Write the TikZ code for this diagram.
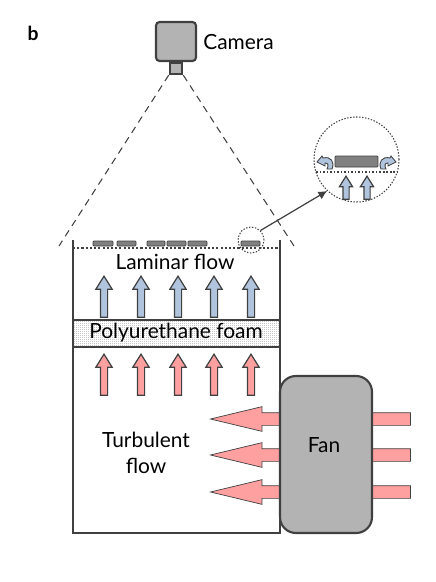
\documentclass[tikz,border=0pt]{standalone}
\usepackage{fontspec}
\setmainfont{Lato}
\usepackage{tikz}
\usetikzlibrary{shapes,arrows,arrows.meta,positioning,patterns}
\definecolor{darkline}{HTML}{404040}
\definecolor{bluearrow}{HTML}{B0C4DE}
\definecolor{redarrow}{HTML}{FFA0A0}
\definecolor{boxgray}{HTML}{B3B3B3}
\definecolor{panelgray}{HTML}{808080}
\pgfdeclarepatternformonly{foamdots}{\pgfqpoint{-0.2pt}{-0.2pt}}{\pgfqpoint{1.1pt}{1.1pt}}{\pgfqpoint{1.3pt}{1.3pt}}{
  \pgfpathrectangle{\pgfqpoint{0pt}{0pt}}{\pgfqpoint{0.5pt}{0.5pt}}
  \pgfusepath{fill}
}

\begin{document}
\begin{tikzpicture}[
  x=0.02cm, y=-0.02cm,
  label/.style={font=\fontsize{11.9}{13}\selectfont, text=black, inner sep=0pt},
  flowup/.style={shape=single arrow, anchor=tip, draw=darkline, line width=0.7pt, rotate=90, minimum height=0.82cm, single arrow head extend=0.09cm, single arrow tip angle=64, single arrow head indent=0cm, inner xsep=0pt, inner ysep=0.06cm},
  flowblue/.style={flowup, fill=bluearrow},
  flowred/.style={flowup, fill=redarrow},
  fanflow/.style={shape=single arrow, anchor=tip, draw=darkline, fill=redarrow, line width=0.4pt, rotate=180, minimum height=4cm, single arrow head extend=0.12cm, single arrow tip angle=27, single arrow head indent=0cm, inner xsep=0pt, inner ysep=0.12cm},
  panel/.style={rectangle, draw=darkline, fill=panelgray, rounded corners=0.5pt, line width=0.4pt, minimum height=0.1cm, inner sep=0pt},
  wall/.style={draw=darkline, line width=1.2pt},
  dotline/.style={draw=darkline, line width=1.2pt, dash pattern=on 1.2pt off 1.2pt},
  zoomring/.style={circle, draw=darkline, line width=0.6pt, dash pattern=on 0.8pt off 0.9pt, inner sep=0pt},
  curlflow/.style={draw=darkline, fill=bluearrow, line width=0.5pt}
]
\useasboundingbox (0,0) rectangle (436,582);

% Label
\node[label, font=\fontsize{11}{13}\selectfont\bfseries] (panelb) at (33,33) {b};

% Camera
\node[rectangle, draw=darkline, fill=boxgray, line width=1.2pt, rounded corners=2pt, minimum width=0.8cm, minimum height=0.78cm, inner sep=0pt] (camera) at (176,41.5) {};
\node[rectangle, draw=darkline, fill=boxgray, line width=1.2pt, minimum width=0.25cm, minimum height=0.22cm, inner sep=0pt, anchor=north] (lens) at (camera.south) {};
\node[label, anchor=west] (cameralabel) at (203,42) {Camera};

% View lines
\coordinate (viewleft) at (59,246);
\coordinate (viewright) at (294,246);
\draw[darkline, line width=0.6pt, dash pattern=on 4pt off 3pt] (lens.south west) -- (viewleft);
\draw[darkline, line width=0.6pt, dash pattern=on 4pt off 3pt] (lens.south east) -- (viewright);

% Foam
\node[rectangle, draw=darkline, line width=1.2pt, pattern=foamdots, pattern color=gray, minimum width=4.13cm, minimum height=0.54cm, inner sep=0pt] (foam) at (176.5,333.5) {};
\node[label] (foamlabel) at (176,333) {Polyurethane foam};

% Tunnel
\coordinate (walltl) at (73,240);
\coordinate (walltr) at (280,240);
\coordinate (wallbl) at (73,533);
\coordinate (wallbr) at (280,533);
\draw[wall] (walltl) -- (wallbl) -- (wallbr) -- (walltr);
\coordinate (surfl) at (73,248);
\coordinate (surfr) at (280,248);
\draw[dotline] (surfl) -- (surfr);

% Objects on the surface
\foreach \name/\xa/\xb in {pa/93/113, pb/117/136, pc/147/165, pd/167/186, pe/188/207, pf/241/260} {
  \pgfmathsetmacro{\xmid}{(\xa+\xb)/2}
  \pgfmathsetmacro{\xlen}{(\xb-\xa)*0.02}
  \node[panel, minimum width=\xlen cm] (\name) at (\xmid,243.5) {};
}

% Laminar and foam arrows
\foreach \x [count=\i] in {104,141,178,214,251} {
  \node[flowblue] (up\i) at (\x,275) {};
  \node[flowred] (in\i) at (\x,353) {};
}
\node[label] (laminar) at (175,262) {Laminar flow};
\node[label, align=center] (turbulent) at (146,453) {Turbulent\\[1.5pt]flow};

% Fan
\foreach \y [count=\i] in {419,455,492} {
  \node[fanflow] (fanair\i) at (209,\y) {};
}
\node[rectangle, draw=darkline, fill=boxgray, line width=1.2pt, rounded corners=9pt, minimum width=1.84cm, minimum height=3.14cm, inner sep=0pt] (fan) at (326,454.5) {};
\node[label] (fanlabel) at (324,445) {Fan};

% Zoom
\node[zoomring, minimum size=0.52cm] (spot) at (251,240) {};
\node[zoomring, minimum size=1.7cm] (detail) at (356.5,159.5) {};
\draw[-{Latex[length=5pt,width=5pt]}, darkline, line width=0.7pt] (spot.45) -- (detail.227);
\node[panel, minimum width=0.86cm, minimum height=0.22cm] (detailpanel) at (356.5,161.5) {};
\coordinate (detaill) at (316,172);
\coordinate (detailr) at (397,172);
\draw[draw=darkline, line width=1pt, dash pattern=on 1pt off 1pt] (detaill) -- (detailr);
\foreach \x [count=\i] in {346,367} {
  \node[flowblue, minimum height=0.46cm, single arrow head extend=0.07cm, inner ysep=0.05cm] (detailup\i) at (\x,175) {};
}
% Curled arrows
\draw[curlflow] (317,162) -- (322,156) -- (323,158) .. controls (331,156) and (335,162) .. (332,169) -- (327,169) .. controls (329,165) and (328,163) .. (325,163) -- (325,166) -- cycle;
\draw[curlflow] (396,162) -- (391,156) -- (390,158) .. controls (382,156) and (378,162) .. (381,169) -- (386,169) .. controls (384,165) and (385,163) .. (388,163) -- (388,166) -- cycle;
\end{tikzpicture}
\end{document}
